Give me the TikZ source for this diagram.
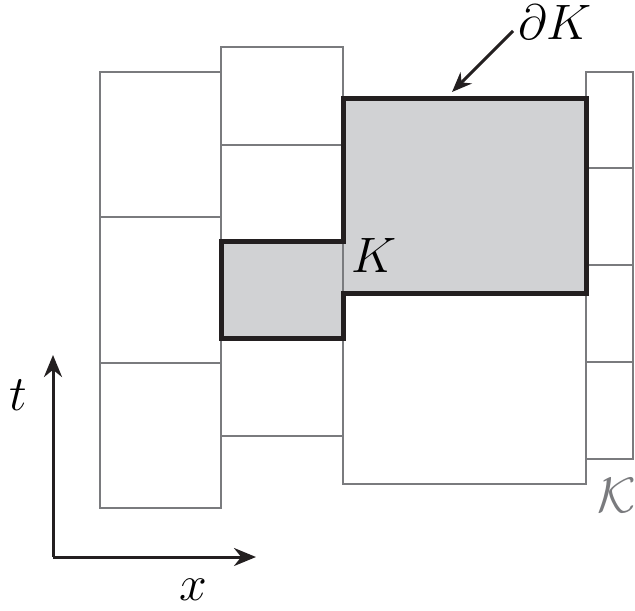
\documentclass[tikz,border=0pt]{standalone}
\usetikzlibrary{arrows.meta}
\definecolor{gridgray}{HTML}{7A7B7E}
\definecolor{fillgray}{HTML}{D1D2D4}
\definecolor{inkblack}{HTML}{231F20}
\tikzset{
  cellline/.style={draw=gridgray, line width=1.4pt},
  bound/.style={draw=inkblack, line width=2.5pt, line join=miter},
  axisline/.style={draw=inkblack, line width=1.5pt, -{Stealth[length=11pt,width=9pt]}},
  lbl/.style={inner sep=0pt, font=\fontsize{24.5}{28}\selectfont}
}
\begin{document}
\begin{tikzpicture}[x=0.5pt,y=-0.5pt]
\useasboundingbox (0,0) rectangle (635,610);
% filled region K
\fill[fillgray] (221,241) -- (343,241) -- (343,98) -- (586,98) -- (586,293) -- (343,293) -- (343,338) -- (221,338) -- cycle;
% column 1
\draw[cellline] (100,72) rectangle (221,508);
\draw[cellline] (100,217) -- (221,217);
\draw[cellline] (100,363) -- (221,363);
% column 2
\draw[cellline] (221,47) rectangle (343,436);
\draw[cellline] (221,145) -- (343,145);
% column 3
\draw[cellline] (343,98) rectangle (586,484);
% column 4
\draw[cellline] (586,72) rectangle (633,459);
\draw[cellline] (586,168) -- (633,168);
\draw[cellline] (586,265) -- (633,265);
\draw[cellline] (586,362) -- (633,362);
% boundary of K
\draw[bound] (221,241) -- (343,241) -- (343,98) -- (586,98) -- (586,293) -- (343,293) -- (343,338) -- (221,338) -- cycle;
% labels
\node[lbl] (K) at (374,255) {$K$};
\node[lbl] (dK) at (555,22) {$\partial K$};
\node[lbl, text=gridgray, font=\fontsize{23}{26}\selectfont] (calK) at (617,495) {$\mathcal{K}$};
\coordinate (dKstart) at (513,31);
\coordinate (dKtip) at (452,92);
\draw[inkblack, line width=1.5pt, -{Stealth[length=10pt,width=8pt]}] (dKstart) -- (dKtip);
% axes
\coordinate (O) at (53,557);
\coordinate (tend) at (53,355);
\coordinate (xend) at (256,557);
\draw[axisline] (O) -- (tend);
\draw[axisline] (O) -- (xend);
\node[lbl] (tl) at (18,395) {$t$};
\node[lbl] (xl) at (193,590) {$x$};
\end{tikzpicture}
\end{document}
